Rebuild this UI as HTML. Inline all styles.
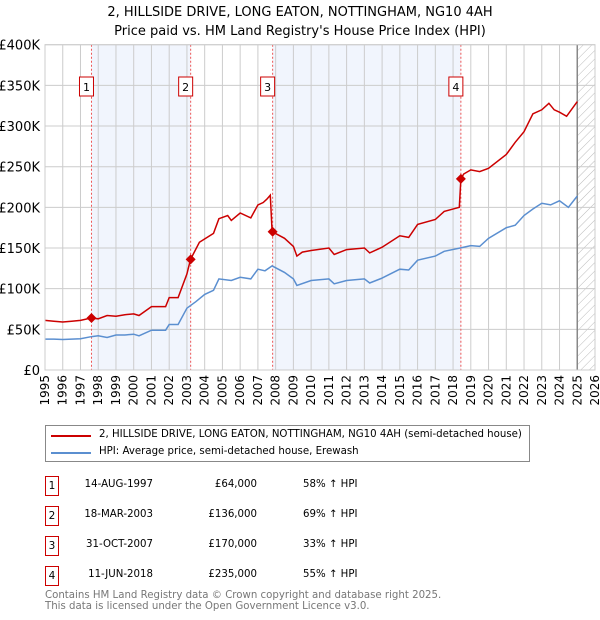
<!DOCTYPE html>
<html><head><meta charset="utf-8"><style>
body{margin:0;background:#fff;font-family:"DejaVu Sans","Liberation Sans",sans-serif;}
#wrap{position:relative;width:600px;height:620px;overflow:hidden;}
.t{position:absolute;font-size:10.2px;color:#000;white-space:nowrap;}
.box{position:absolute;border:1px solid #c00;width:12px;height:18px;font-size:10.5px;text-align:center;line-height:18px;}
</style></head><body>
<div id="wrap">
<svg id="chart" width="600" height="420" style="position:absolute;left:0;top:0"></svg>
<div style="position:absolute;left:45px;top:425px;width:483px;height:35px;border:1px solid #888;">
  <div style="position:absolute;left:5px;top:9px;width:40px;height:2px;background:#c00"></div>
  <div class="t" style="left:53px;top:3px">2, HILLSIDE DRIVE, LONG EATON, NOTTINGHAM, NG10 4AH (semi-detached house)</div>
  <div style="position:absolute;left:5px;top:26px;width:40px;height:2px;background:#5b8fd0"></div>
  <div class="t" style="left:53px;top:20px">HPI: Average price, semi-detached house, Erewash</div>
</div>
<div id="table"></div>
<div class="t" style="left:45px;top:590px;color:#777;line-height:11px">Contains HM Land Registry data © Crown copyright and database right 2025.<br>This data is licensed under the Open Government Licence v3.0.</div>
</div>
<script>
const hpiYears=[1995,1995.5,1996,1996.5,1997,1997.6,1998,1998.5,1999,1999.5,2000,2000.3,2001,2001.8,2002,2002.5,2003,2003.5,2004,2004.5,2004.8,2005.5,2006,2006.6,2007,2007.4,2007.8,2008.5,2009,2009.2,2010,2011,2011.3,2012,2013,2013.3,2014,2015,2015.5,2016,2017,2017.5,2018.4,2019,2019.5,2020,2021,2021.5,2022,2022.5,2023,2023.5,2024,2024.5,2025];
const hpiValues=[38,38,37.5,38,38.5,41,42,40,43,43,44,42,49,49,56,56,76,84,93,98,112,110,114,112,124,122,128,120,112,104,110,112,106,110,112,107,113,124,123,135,140,146,150,153,152,162,175,178,190,198,205,203,208,200,214];
const propYears=[1995,1995.5,1996,1996.5,1997,1997.6,1998,1998.5,1999,1999.5,2000,2000.3,2001,2001.8,2002,2002.5,2003,2003.2,2003.7,2004.5,2004.8,2005.3,2005.5,2006,2006.6,2007,2007.3,2007.5,2007.7,2007.8,2008.5,2009,2009.2,2009.5,2010,2011,2011.3,2012,2013,2013.3,2014,2015,2015.5,2016,2017,2017.5,2018.35,2018.44,2018.6,2019,2019.5,2020,2021,2021.5,2022,2022.5,2023,2023.4,2023.7,2024,2024.4,2025];
const propValues=[61,60,59,60,61,64,63,67,66,68,69,67,78,78,89,89,118,136,157,168,186,190,184,193,187,203,206,210,215,170,162,152,140,145,147,150,142,148,150,144,151,165,163,179,185,195,200,235,241,246,244,248,265,280,293,315,320,328,320,317,312,330];
const saleLabels=["1","2","3","4"];
const saleYears=[1997.62,2003.21,2007.83,2018.44];
const salePrices=[64,136,170,235];
const saleDates=["14-AUG-1997","18-MAR-2003","31-OCT-2007","11-JUN-2018"];
const salePriceText=["£64,000","£136,000","£170,000","£235,000"];
const saleHpiText=["58% ↑ HPI","69% ↑ HPI","33% ↑ HPI","55% ↑ HPI"];
const yTicks=[0,50,100,150,200,250,300,350,400];
const yTickLabels=["£0","£50K","£100K","£150K","£200K","£250K","£300K","£350K","£400K"];
const xTicks=[1995,1996,1997,1998,1999,2000,2001,2002,2003,2004,2005,2006,2007,2008,2009,2010,2011,2012,2013,2014,2015,2016,2017,2018,2019,2020,2021,2022,2023,2024,2025,2026];

const L=45,R=595,T=44.7,B=370,X0=1995,X1=2026,YMAX=400,DATA_END=2025.0;
const xs=v=>L+(v-X0)/(X1-X0)*(R-L);
const ys=v=>B-v/YMAX*(B-T);
const svg=document.getElementById('chart');const NS='http://www.w3.org/2000/svg';
function mk(tag,attrs,parent){const e=document.createElementNS(NS,tag);for(const k in attrs)e.setAttribute(k,attrs[k]);(parent||svg).appendChild(e);return e;}
const defs=mk('defs',{});
const pat=mk('pattern',{id:'hatch',width:6,height:6,patternUnits:'userSpaceOnUse',patternTransform:'rotate(45)'},defs);
mk('line',{x1:0,y1:0,x2:0,y2:6,stroke:'#bbb','stroke-width':1},pat);
let t=mk('text',{x:300,y:16,'text-anchor':'middle','font-size':13,'font-family':'DejaVu Sans, sans-serif'});t.textContent="2, HILLSIDE DRIVE, LONG EATON, NOTTINGHAM, NG10 4AH";

t=mk('text',{x:300,y:35,'text-anchor':'middle','font-size':13,'font-family':'DejaVu Sans, sans-serif'});t.textContent="Price paid vs. HM Land Registry's House Price Index (HPI)";

for(let i=0;i<saleYears.length;i+=2){
  const a=saleYears[i],b=saleYears[i+1];
  const r=mk('rect',{x:xs(a),y:T,width:xs(b)-xs(a),height:B-T,fill:'#eef3fd',opacity:0.8});
  
}
let h=mk('rect',{x:xs(DATA_END),y:T,width:R-xs(DATA_END),height:B-T,fill:'url(#hatch)'});

xTicks.forEach(v=>{const l=mk('line',{x1:xs(v),x2:xs(v),y1:T,y2:B,stroke:'#ccc','stroke-width':1});

const tx=mk('text',{x:0,y:0,transform:`translate(${xs(v)+4},375) rotate(-90)`,'text-anchor':'end','font-size':12,'font-family':'DejaVu Sans, sans-serif'});tx.textContent=v;
});
yTicks.forEach((v,i)=>{const l=mk('line',{x1:L,x2:R,y1:ys(v),y2:ys(v),stroke:'#ccc','stroke-width':1});

const tx=mk('text',{x:40,y:ys(v)+5,'text-anchor':'end','font-size':13,'font-family':'DejaVu Sans, sans-serif'});tx.textContent=yTickLabels[i];
});
let ln=mk('line',{x1:xs(DATA_END),x2:xs(DATA_END),y1:T,y2:B,stroke:'#888','stroke-width':1.5});

saleYears.forEach((y,i)=>{
  const l=mk('line',{x1:xs(y),x2:xs(y),y1:T,y2:B,stroke:'#e55','stroke-width':1,'stroke-dasharray':'2,2'});
  
  const r=mk('rect',{x:xs(y)-12,y:77,width:14,height:19,fill:'#fff',stroke:'#c00','stroke-width':1});
  
  const tx=mk('text',{x:xs(y)-5,y:91,'text-anchor':'middle','font-size':11,'font-family':'DejaVu Sans, sans-serif'});tx.textContent=saleLabels[i];
  
});
function path(xv,yv){return xv.map((x,i)=>(i?'L':'M')+xs(x).toFixed(1)+','+ys(yv[i]).toFixed(1)).join('');}
let p=mk('path',{d:path(hpiYears,hpiValues),fill:'none',stroke:'#5b8fd0','stroke-width':1.5});

p=mk('path',{d:path(propYears,propValues),fill:'none',stroke:'#c00','stroke-width':1.5});

saleYears.forEach((y,i)=>{const d=mk('path',{d:`M${xs(y)},${ys(salePrices[i])-5}l5,5l-5,5l-5,-5z`,fill:'#c00'});
});
mk('rect',{x:L,y:T,width:R-L,height:B-T,fill:'none',stroke:'#ccc'});
const tb=document.getElementById('table');
saleLabels.forEach((s,i)=>{
  const top=476+i*30;
  const add=(html,style,name)=>{const d=document.createElement('div');d.className='t';d.style.cssText=style;d.textContent=html;
    
    
    tb.appendChild(d);};
  const b=document.createElement('div');b.className='box';b.style.left='45px';b.style.top=top+'px';b.textContent=s;
  
  
  tb.appendChild(b);
  add(saleDates[i],`right:447px;top:${top+3}px`,'table-sale-date');
  add(salePriceText[i],`right:343px;top:${top+3}px`,'table-sale-price');
  add(saleHpiText[i],`left:303px;top:${top+3}px`,'table-hpi-change');
});
</script>
</body></html>
